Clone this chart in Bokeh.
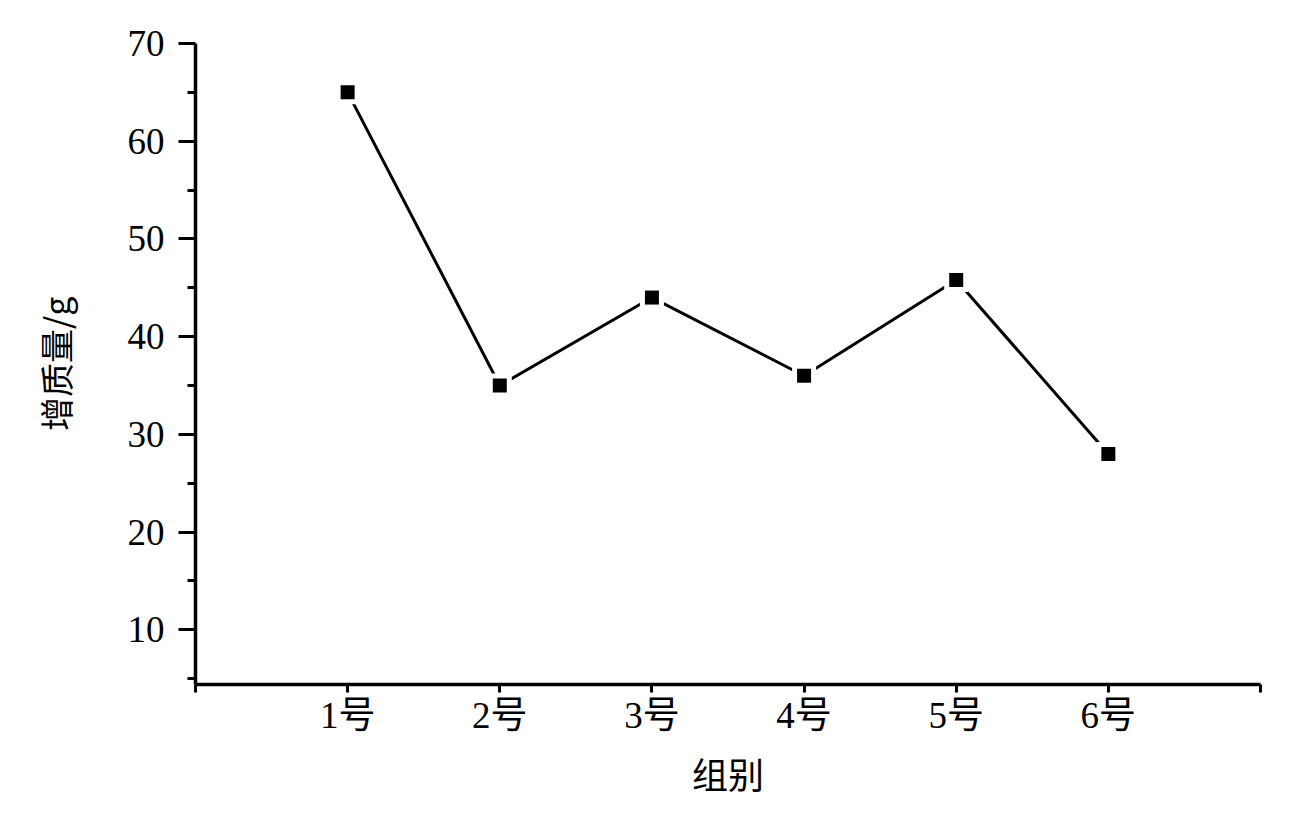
from bokeh.plotting import figure
from bokeh.models import FixedTicker, Range1d
from bokeh.embed import file_html
from bokeh.resources import INLINE

groups = ["1号", "2号", "3号", "4号", "5号", "6号"]
gain = [65.0, 35.0, 44.0, 36.0, 45.8, 28.0]
y_ticks = [10, 20, 30, 40, 50, 60, 70]
y_minor = [5, 15, 25, 35, 45, 55, 65]
x_pos = list(range(1, len(groups) + 1))

p = figure(width=1300, height=812, output_backend="svg", toolbar_location=None,
           x_range=Range1d(0, 7), y_range=Range1d(4.4, 70),
           min_border_left=195, min_border_top=43, min_border_right=40, min_border_bottom=128)
p.outline_line_color = None
p.grid.visible = False
p.background_fill_color = "white"

p.line(x_pos, gain, line_color="black", line_width=3)
p.scatter(x_pos, gain, marker="square", size=24, fill_color="white", line_color=None)
p.scatter(x_pos, gain, marker="square", size=14, fill_color="black", line_color=None)

serif = "'Liberation Serif', 'Noto Sans CJK SC'"

xa = p.xaxis[0]
xa.ticker = FixedTicker(ticks=[0] + x_pos + [7])
xa.major_label_overrides = {0: "", 7: "", **{x: g for x, g in zip(x_pos, groups)}}
xa.major_tick_out = 8
xa.major_tick_in = 0
xa.minor_tick_line_color = None
xa.axis_line_width = 3.5
xa.major_tick_line_width = 3
xa.major_label_text_font = serif
xa.major_label_text_font_size = "37px"
xa.major_label_text_color = "black"
xa.major_label_standoff = 2
xa.axis_label = "组别"
xa.axis_label_text_font = "Noto Sans CJK SC"
xa.axis_label_text_font_style = "normal"
xa.axis_label_text_color = "black"
xa.axis_label_text_font_size = "36px"
xa.axis_label_standoff = 8

ya = p.yaxis[0]
ya.ticker = FixedTicker(ticks=y_ticks, minor_ticks=y_minor)
ya.major_tick_out = 17
ya.major_tick_in = 0
ya.minor_tick_out = 8
ya.minor_tick_in = 0
ya.axis_line_width = 3.5
ya.major_tick_line_width = 3
ya.minor_tick_line_width = 3
ya.major_label_text_font = serif
ya.major_label_text_font_size = "37px"
ya.major_label_text_color = "black"
ya.major_label_standoff = 14
ya.axis_label = "增质量/g"
ya.axis_label_text_font = "Noto Sans CJK SC"
ya.axis_label_text_font_style = "normal"
ya.axis_label_text_color = "black"
ya.axis_label_text_font_size = "34px"
ya.axis_label_standoff = 45

open("out.html", "w").write(file_html(p, INLINE))
